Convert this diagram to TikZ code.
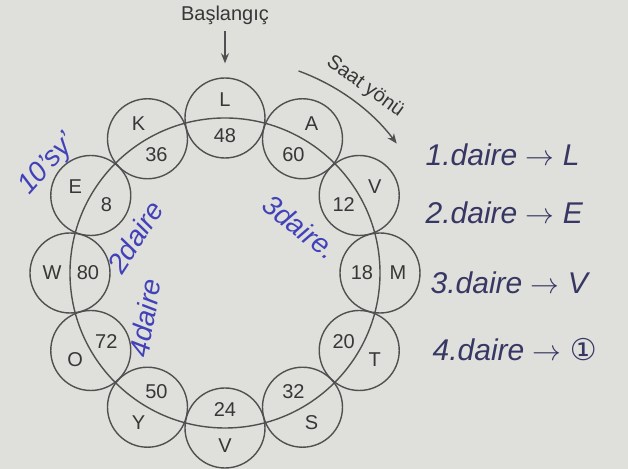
\documentclass[tikz,border=0pt]{standalone}
\usepackage{fontspec}
\setmainfont{Liberation Sans}
\newfontfamily\symfont{DejaVu Sans}
\usetikzlibrary{positioning, arrows.meta, backgrounds}

\definecolor{paperclr}{RGB}{223,223,219}
\definecolor{lineclr} {RGB}{80,80,80}
\definecolor{textclr} {RGB}{55,55,55}
\definecolor{penclr}  {RGB}{55,55,100}
\definecolor{blueclr} {RGB}{65,65,185}

\begin{document}
\begin{tikzpicture}[
    x=0.5pt, y=0.5pt,
    font=\fontsize{10}{12}\selectfont,
    >={Stealth[length=5pt, width=4pt]},
    line width=0.7pt,
    ring/.style ={draw=lineclr, circle, minimum size=155pt, inner sep=0pt},
    disc/.style ={draw=lineclr, circle, minimum size=40pt, inner sep=0pt},
    lbl/.style  ={text=textclr, inner sep=1pt},
    hand/.style ={text=penclr, font=\fontsize{15}{18}\selectfont\itshape,
                  inner sep=1pt},
    note/.style ={text=blueclr, font=\fontsize{14}{16}\selectfont\itshape,
                  inner sep=1pt},
    flow/.style ={->, draw=lineclr},
]

% =============== Paper ===============
\path[fill=paperclr, use as bounding box] (-225,-196) rectangle (403,273);

% =============== Ring of circles ===============
\node[ring] (ring) at (0,0) {};
\foreach \a/\ltr/\nb [count=\i] in {90/L/48, 60/A/60, 30/V/12, 0/M/18,
    -30/T/20, -60/S/32, -90/V/24, -120/Y/50, -150/O/72, 180/W/80,
    150/E/8, 120/K/36}{%
  \node[disc] (c\i) at (\a:155) {};
  \node[lbl]  (l\i) at (\a:173) {\ltr};
  \node[lbl]  (n\i) at (\a:137) {\nb};
}

% =============== Start and direction ===============
\node[lbl] (start) at (0,258) {Başlangıç};
\draw[flow, shorten <=2pt, shorten >=7pt] (start) -- (c1);

\node[lbl, rotate=-36] (dir) at (140,186) {Saat yönü};
\coordinate (cw0) at (70:215);
\draw[flow] (cw0) arc[start angle=70, end angle=37, radius=215];

% =============== Pen notes (right) ===============
\node[hand, anchor=west] (d1) at (198,118) {1.daire $\rightarrow$ L};
\node[hand, anchor=west] (d2) at (198,60)  {2.daire $\rightarrow$ E};
\node[hand, anchor=west] (d3) at (203,-10) {3.daire $\rightarrow$ V};
\node[hand, anchor=west] (d4) at (205,-77) {4.daire $\rightarrow$ {\symfont ①}};

% =============== Pen notes (inside / left) ===============
\node[note, rotate=48] (tens) at (-177,108) {10'sy'};
\node[note, rotate=57] (dd2)  at (-90,36)   {2daire};
\node[note, rotate=-38] (dd3) at (75,46)    {3daire.};
\node[note, rotate=80] (dd4)  at (-80,-45)  {4daire};

\end{tikzpicture}
\end{document}
